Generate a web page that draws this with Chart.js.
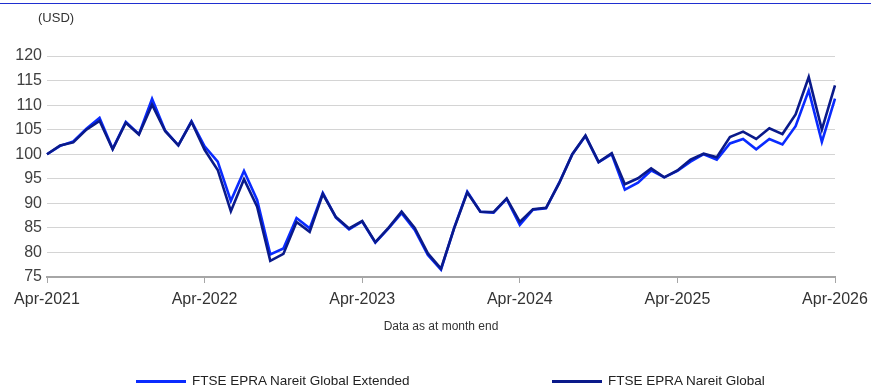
<!DOCTYPE html>
<html>
<head>
<meta charset="utf-8">
<script src="https://cdn.jsdelivr.net/npm/chart.js@4"></script>
<style>
  body { margin: 0; background: #fff; font-family: "Liberation Sans", Arial, sans-serif; }
  #wrap { position: relative; width: 871px; height: 392px; overflow: hidden; }
  #topLine { position: absolute; left: 0; top: 3px; width: 871px; height: 1px; background: #1f2fd0; }
  #unit { position: absolute; left: 38px; top: 10px; font-size: 13px; color: #333; }
  .leg { position: absolute; top: 373px; font-size: 13.5px; color: #222; white-space: nowrap; }
  .leg span { display: inline-block; width: 50px; height: 3px; vertical-align: middle; margin-right: 6px; }
</style>
</head>
<body>
<div id="wrap">
  <canvas id="myChart" width="871" height="392"></canvas>
  <div id="topLine"></div>
  <div id="unit">(USD)</div>
  <div class="leg" style="left:136px"><span style="background:#0a2bff"></span>FTSE EPRA Nareit Global Extended</div>
  <div class="leg" style="left:552px"><span style="background:#0a1a8a"></span>FTSE EPRA Nareit Global</div>
</div>
<script>
// month end categories Apr-2021 .. Apr-2026
const monthNames = ['Jan','Feb','Mar','Apr','May','Jun','Jul','Aug','Sep','Oct','Nov','Dec'];
const yearTicks = ['Apr-2021','Apr-2022','Apr-2023','Apr-2024','Apr-2025','Apr-2026'];

const labels = [];
for (let i = 0; i <= 60; i++) {
  const m = (3 + i) % 12;
  const y = 2021 + Math.floor((3 + i) / 12);
  labels.push(monthNames[m] + '-' + y);
}

// FTSE EPRA Nareit Global Extended
const extended = [
  100, 101.7, 102.6, 105.2, 107.4, 101.1, 106.6, 104.1, 111.3, 104.8, 101.8, 106.7,
  101.6, 98.5, 90.5, 96.6, 90.7, 79.6, 80.8, 87, 84.9, 92.1, 87.1, 84.7,
  86.3, 82, 84.9, 88, 84.6, 79.5, 76.5, 85, 92.4, 88.3, 88.1, 90.9,
  85.6, 88.7, 89, 94.2, 100, 103.7, 98.4, 100, 92.8, 94.2, 96.7, 95.3,
  96.6, 98.5, 100, 98.9, 102.2, 103.1, 101, 103.1, 102, 105.7, 113, 102.5,
  111.3
];

// FTSE EPRA Nareit Global
const global = [
  100, 101.8, 102.4, 105, 106.8, 101, 106.4, 104, 110.1, 104.7, 101.8, 106.6,
  100.9, 96.8, 88.4, 94.9, 89.3, 78.3, 79.7, 86.2, 84.2, 91.9, 87.2, 84.9,
  86.4, 82.1, 85, 88.3, 85, 79.8, 76.7, 84.9, 92.2, 88.3, 88.2, 91,
  86.2, 88.8, 89.1, 94.1, 100, 103.8, 98.4, 100.2, 93.9, 95.1, 97.1, 95.3,
  96.7, 98.9, 100.1, 99.4, 103.5, 104.6, 103.1, 105.3, 104.1, 108.1, 115.7, 105,
  114
];

const fontFam = '"Liberation Sans", Arial, sans-serif';
const ctx = document.getElementById('myChart').getContext('2d');

const data = {
  labels,
  datasets: [
    {
      label: 'FTSE EPRA Nareit Global Extended',
      data: extended,
      borderColor: '#0a2bff',
      borderWidth: 2.6,
      pointRadius: 0,
      tension: 0,
      order: 2
    },
    {
      label: 'FTSE EPRA Nareit Global',
      data: global,
      borderColor: '#0a1a8a',
      borderWidth: 2.6,
      pointRadius: 0,
      tension: 0,
      order: 1
    }
  ]
};

const config = {
  type: 'line',
  data: data,
  options: {
    responsive: false,
    animation: false,
    layout: { padding: { left: 0, right: 36, top: 56, bottom: 58 } },
    plugins: {
      legend: { display: false },
      tooltip: { enabled: false }
    },
    scales: {
      x: {
        afterFit: (scale) => {
          scale.height = 57;
          scale.paddingLeft = 0;
          scale.paddingRight = 0;
        },
        border: { display: true, color: '#a6a6a6', width: 2 },
        grid: {
          drawOnChartArea: false,
          drawTicks: true,
          tickLength: 6,
          color: (c) => (c.index % 12 === 0 ? '#a6a6a6' : 'rgba(0,0,0,0)')
        },
        ticks: {
          autoSkip: false,
          maxRotation: 0,
          padding: 7,
          color: '#333',
          font: { family: fontFam, size: 16 },
          callback: (v, i) => (i % 12 === 0 ? yearTicks[i / 12] : '')
        },
        title: {
          display: true,
          text: 'Data as at month end',
          color: '#333',
          font: { family: fontFam, size: 12 },
          padding: 0
        }
      },
      y: {
        min: 75,
        max: 120,
        afterFit: (scale) => { scale.width = 47; },
        border: { display: false },
        grid: { color: '#d4d4d4', lineWidth: 1, drawTicks: false },
        ticks: {
          stepSize: 5,
          padding: 5,
          color: '#404040',
          font: { family: fontFam, size: 16 }
        }
      }
    }
  }
};

new Chart(ctx, config);
</script>
</body>
</html>
